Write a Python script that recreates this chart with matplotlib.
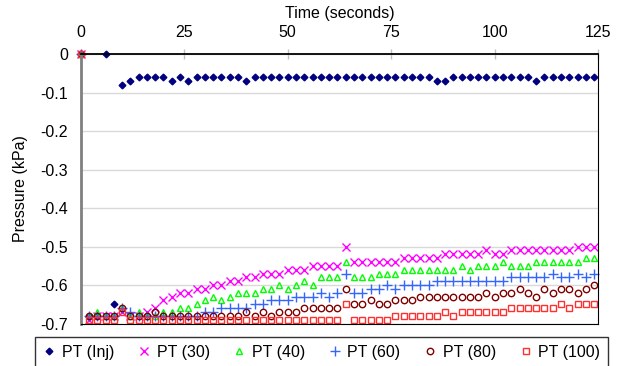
import numpy as np
import matplotlib.pyplot as plt

plt.rcParams['font.family'] = ['Liberation Sans', 'DejaVu Sans']
plt.rcParams['axes.unicode_minus'] = False

# sample times (s)
time = [0, 2, 4, 6, 8, 10, 12, 14, 16, 18, 20, 22, 24, 26, 28, 30, 32, 34, 36, 38,
        40, 42, 44, 46, 48, 50, 52, 54, 56, 58, 60, 62, 64, 66, 68, 70, 72, 74, 76, 78,
        80, 82, 84, 86, 88, 90, 92, 94, 96, 98, 100, 102, 104, 106, 108, 110, 112, 114,
        116, 118, 120, 122, 124]

# pressure readings (kPa)
pt_inj = [0, -0.68, -0.68, 0, -0.65, -0.08, -0.07, -0.06, -0.06, -0.06, -0.06, -0.07,
          -0.06, -0.07, -0.06, -0.06, -0.06, -0.06, -0.06, -0.06, -0.07,
          -0.06, -0.06, -0.06, -0.06, -0.06, -0.06, -0.06, -0.06, -0.06, -0.06, -0.06,
          -0.06, -0.06, -0.06, -0.06, -0.06, -0.06, -0.06, -0.06, -0.06, -0.06, -0.06,
          -0.07, -0.07, -0.06, -0.06, -0.06, -0.06, -0.06, -0.06, -0.06, -0.06, -0.06,
          -0.06, -0.07, -0.06, -0.06, -0.06, -0.06, -0.06, -0.06, -0.06]
pt_30 = [0, -0.69, -0.68, -0.68, -0.68, -0.67, -0.68, -0.68, -0.67, -0.66, -0.64, -0.63,
         -0.62, -0.62, -0.61, -0.61, -0.60, -0.60, -0.59, -0.59, -0.58, -0.58, -0.57,
         -0.57, -0.57, -0.56, -0.56, -0.56, -0.55, -0.55, -0.55, -0.55, -0.50, -0.54,
         -0.54, -0.54, -0.54, -0.54, -0.54, -0.53, -0.53, -0.53, -0.53, -0.53, -0.52,
         -0.52, -0.52, -0.52, -0.52, -0.51, -0.52, -0.52, -0.51, -0.51, -0.51, -0.51,
         -0.51, -0.51, -0.51, -0.51, -0.50, -0.50, -0.50]
pt_40 = [0, -0.68, -0.67, -0.68, -0.68, -0.66, -0.68, -0.67, -0.68, -0.68, -0.67, -0.67,
         -0.66, -0.66, -0.65, -0.64, -0.63, -0.64, -0.63, -0.62, -0.62, -0.62, -0.61,
         -0.61, -0.60, -0.61, -0.60, -0.59, -0.60, -0.58, -0.58, -0.58, -0.54, -0.58,
         -0.58, -0.58, -0.57, -0.57, -0.57, -0.56, -0.56, -0.56, -0.56, -0.56, -0.56,
         -0.56, -0.55, -0.56, -0.55, -0.55, -0.55, -0.54, -0.55, -0.55, -0.55, -0.54,
         -0.54, -0.54, -0.54, -0.54, -0.54, -0.53, -0.53]
pt_60 = [0, -0.68, -0.68, -0.68, -0.68, -0.66, -0.67, -0.68, -0.68, -0.68, -0.68, -0.68,
         -0.68, -0.68, -0.68, -0.67, -0.67, -0.66, -0.66, -0.66, -0.66, -0.65, -0.65,
         -0.64, -0.64, -0.64, -0.63, -0.63, -0.63, -0.62, -0.63, -0.62, -0.57, -0.62,
         -0.62, -0.61, -0.61, -0.60, -0.61, -0.60, -0.60, -0.60, -0.60, -0.59, -0.59,
         -0.59, -0.59, -0.59, -0.59, -0.59, -0.59, -0.59, -0.58, -0.58, -0.58, -0.58,
         -0.58, -0.57, -0.58, -0.58, -0.57, -0.58, -0.57]
pt_80 = [0, -0.68, -0.68, -0.68, -0.68, -0.66, -0.68, -0.68, -0.68, -0.67, -0.68, -0.68,
         -0.68, -0.68, -0.68, -0.68, -0.68, -0.68, -0.68, -0.68, -0.67, -0.68, -0.67,
         -0.68, -0.67, -0.67, -0.67, -0.66, -0.66, -0.66, -0.66, -0.66, -0.61, -0.65,
         -0.65, -0.64, -0.65, -0.65, -0.64, -0.64, -0.64, -0.63, -0.63, -0.63, -0.63,
         -0.63, -0.63, -0.63, -0.63, -0.62, -0.63, -0.62, -0.62, -0.61, -0.62, -0.63,
         -0.61, -0.62, -0.61, -0.61, -0.62, -0.61, -0.60]
pt_100 = [0, -0.69, -0.69, -0.69, -0.69, -0.67, -0.69, -0.69, -0.69, -0.69, -0.69, -0.69,
          -0.69, -0.69, -0.69, -0.69, -0.69, -0.69, -0.69, -0.69, -0.69, -0.69, -0.69,
          -0.69, -0.69, -0.69, -0.69, -0.69, -0.69, -0.69, -0.69, -0.69, -0.65, -0.69,
          -0.69, -0.69, -0.69, -0.69, -0.68, -0.68, -0.68, -0.68, -0.68, -0.68, -0.67,
          -0.68, -0.67, -0.67, -0.67, -0.67, -0.67, -0.67, -0.66, -0.66, -0.66, -0.66,
          -0.66, -0.66, -0.65, -0.66, -0.65, -0.65, -0.65]

labels = ['PT (Inj)', 'PT (30)', 'PT (40)', 'PT (60)', 'PT (80)', 'PT (100)']

fig = plt.figure(figsize=(6.22, 3.66), dpi=100)
ax = fig.add_axes([0.1297, 0.1161, 0.8322, 0.7355])

ax.plot(time, pt_inj, ls='none', marker='D', ms=3.4, color='#000080', label=labels[0], clip_on=False)
ax.plot(time, pt_30, ls='none', marker='x', ms=6, mew=1, color='#FF00FF', label=labels[1], clip_on=False)
ax.plot(time, pt_40, ls='none', marker='^', ms=5, mew=1, mfc='none', mec='#00FF00', label=labels[2], clip_on=False)
ax.plot(time, pt_60, ls='none', marker='+', ms=7, mew=1, color='#3366FF', label=labels[3], clip_on=False)
ax.plot(time, pt_80, ls='none', marker='o', ms=4.6, mew=1, mfc='none', mec='#800000', label=labels[4], clip_on=False)
ax.plot(time, pt_100, ls='none', marker='s', ms=4.8, mew=1, mfc='none', mec='#FF3030', label=labels[5], clip_on=False)

ax.set_xlim(0, 125)
ax.set_ylim(-0.7, 0)
ax.set_xticks([0, 25, 50, 75, 100, 125])
ax.set_yticks([0, -0.1, -0.2, -0.3, -0.4, -0.5, -0.6, -0.7])
ax.set_yticklabels(['0', '-0.1', '-0.2', '-0.3', '-0.4', '-0.5', '-0.6', '-0.7'])

ax.xaxis.tick_top()
ax.xaxis.set_label_position('top')
ax.tick_params(axis='x', direction='inout', length=7, width=1, color='#c0c0c0',
               labelsize=11.5, pad=7)
ax.tick_params(axis='y', length=0, labelsize=11.5, pad=9)
ax.set_xlabel('Time (seconds)', fontsize=11.5, labelpad=5)
ax.set_ylabel('Pressure (kPa)', fontsize=11.5, labelpad=9)

ax.yaxis.grid(True, color='#d9d9d9', lw=1)
ax.set_axisbelow(True)

ax.spines['left'].set_color('#808080')
ax.spines['left'].set_linewidth(2)
ax.spines['top'].set_color('black')
ax.spines['top'].set_linewidth(1.3)
ax.spines['right'].set_color('black')
ax.spines['bottom'].set_color('black')

leg = fig.legend(loc='lower left', bbox_to_anchor=(0.056, -0.005, 0.922, 0.088),
                 mode='expand', ncol=6, fontsize=11.5, frameon=True, fancybox=False,
                 handlelength=0.8, handletextpad=0.4, borderaxespad=0, borderpad=0.5)
leg.get_frame().set_edgecolor('black')
leg.get_frame().set_linewidth(1)

fig.savefig('out.png', dpi=100)
